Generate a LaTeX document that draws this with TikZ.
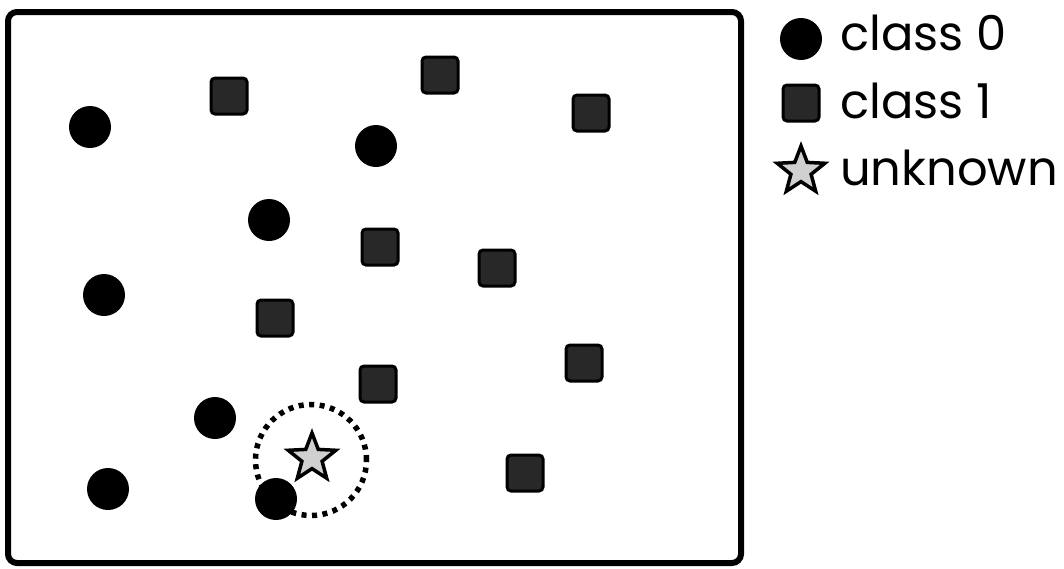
\documentclass[tikz,border=0pt]{standalone}
\usepackage{fontspec}
\setmainfont{Poppins}
\usetikzlibrary{shapes.geometric}
\definecolor{sqfill}{RGB}{40, 40, 40}
\definecolor{starfill}{RGB}{208, 208, 208}
\tikzset{
  frame/.style={draw=black, line width=6pt, rounded corners=9pt},
  cls0/.style={circle, fill=black, draw=none,
               minimum size=42pt, inner sep=0pt},
  cls1/.style={rectangle, fill=sqfill, draw=black, line width=3pt,
               minimum size=36pt, inner sep=0pt, rounded corners=4pt},
  unk/.style={star, star points=5, star point ratio=2.35,
              fill=starfill, draw=black, line width=3.5pt,
              minimum size=50pt, inner sep=0pt},
  nbr/.style={circle, draw=black, line width=5.5pt,
              dash pattern=on 5pt off 5.5pt,
              minimum size=111pt, inner sep=0pt},
  legtext/.style={anchor=base west, font=\fontsize{48}{52}\selectfont,
                  inner sep=0pt},
}
\begin{document}
\begin{tikzpicture}[x=1pt, y=-1pt]
    \useasboundingbox (0,0) rectangle (1064,568);
    \draw[frame] (8,12) rectangle (741,563);

    % neighbourhood of the unknown point
    \node[nbr] (N) at (311,460) {};
    \node[unk] (U) at (312,458) {};

    % class 0 samples
    \node[cls0] (C1) at (90,127) {};
    \node[cls0] (C2) at (376,146) {};
    \node[cls0] (C3) at (269,220) {};
    \node[cls0] (C4) at (104,295) {};
    \node[cls0] (C5) at (215,418) {};
    \node[cls0] (C6) at (108,489) {};
    \node[cls0] (C7) at (276,499) {};

    % class 1 samples
    \node[cls1] (S1) at (229,96) {};
    \node[cls1] (S2) at (440,75) {};
    \node[cls1] (S3) at (591,113) {};
    \node[cls1] (S4) at (380,247) {};
    \node[cls1] (S5) at (497,268) {};
    \node[cls1] (S6) at (275,318) {};
    \node[cls1] (S7) at (378,384) {};
    \node[cls1] (S8) at (584,363) {};
    \node[cls1] (S9) at (525,473) {};

    % legend
    \node[cls0] (L0) at (801,39) {};
    \node[cls1] (L1) at (801,103) {};
    \node[unk] (L2) at (801,171) {};
    \node[legtext] (T0) at (840,50) {class 0};
    \node[legtext] (T1) at (840,118) {class 1};
    \node[legtext] (T2) at (840,185) {unknown};
  \end{tikzpicture}
\end{document}
